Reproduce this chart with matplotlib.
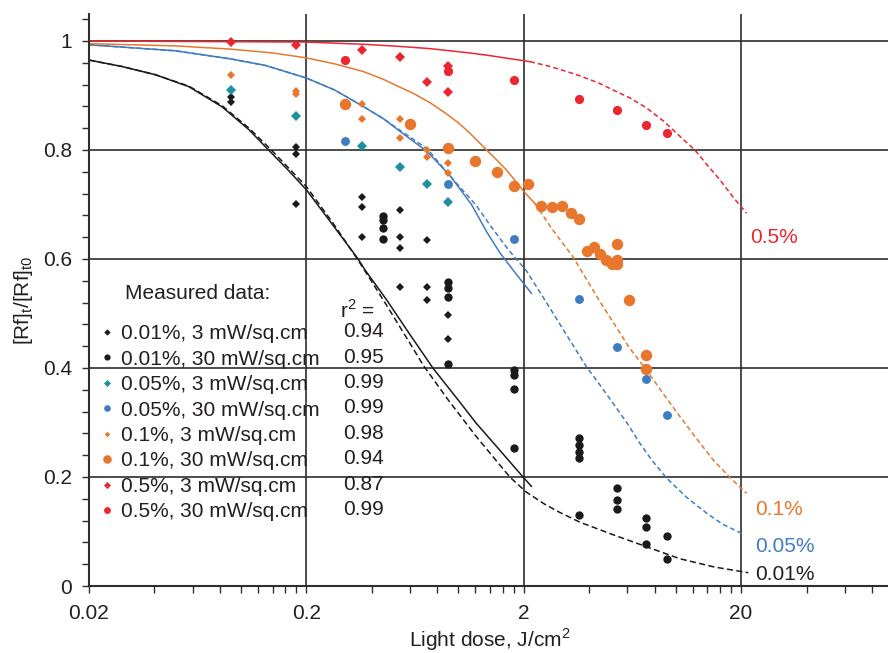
import numpy as np
import matplotlib.pyplot as plt
from matplotlib.ticker import FixedLocator, MultipleLocator, NullFormatter

plt.rcParams['font.family'] = ['Liberation Sans', 'DejaVu Sans']
plt.rcParams['mathtext.fontset'] = 'custom'
plt.rcParams['mathtext.rm'] = 'Liberation Sans'

TXT = '#231f20'
BLACK = '#1a1a1a'
TEAL = '#1f8fa3'
BLUE = '#3f7cc2'
ORANGE = '#e8772d'
RED = '#ec2630'

# ---- measured data (light dose J/cm^2, [Rf]t/[Rf]t0) ----
dose_001_3 = [0.09, 0.09, 0.18, 0.18, 0.18, 0.36, 0.36, 0.36, 0.54, 0.54, 0.54, 0.54,
              0.72, 0.72, 0.72, 0.9, 0.9]
frac_001_3 = [0.898, 0.888, 0.806, 0.792, 0.701, 0.714, 0.696, 0.640, 0.689, 0.641, 0.620, 0.549,
              0.634, 0.549, 0.525, 0.497, 0.453]

dose_001_30 = [0.45, 0.45, 0.45, 0.45, 0.9, 0.9, 0.9, 0.9, 1.8, 1.8, 1.8, 1.8,
               3.6, 3.6, 3.6, 3.6, 3.6, 5.4, 5.4, 5.4, 7.3, 7.3, 7.3, 9.1, 9.1]
frac_001_30 = [0.679, 0.672, 0.657, 0.637, 0.557, 0.546, 0.531, 0.407, 0.396, 0.387, 0.361, 0.253,
               0.271, 0.259, 0.246, 0.235, 0.130, 0.179, 0.157, 0.142, 0.125, 0.108, 0.077, 0.092, 0.050]

dose_005_3 = [0.09, 0.18, 0.36, 0.54, 0.72, 0.9]
frac_005_3 = [0.910, 0.863, 0.807, 0.769, 0.737, 0.704]

dose_005_30 = [0.3, 0.9, 1.8, 3.6, 5.4, 7.3, 9.1]
frac_005_30 = [0.817, 0.738, 0.636, 0.527, 0.439, 0.380, 0.313]

dose_01_3 = [0.09, 0.18, 0.18, 0.36, 0.36, 0.54, 0.54, 0.72, 0.72, 0.9, 0.9]
frac_01_3 = [0.938, 0.909, 0.903, 0.884, 0.857, 0.857, 0.822, 0.800, 0.788, 0.776, 0.757]

dose_01_30 = [0.3, 0.6, 0.9, 1.2, 1.5, 1.8, 2.1, 2.4, 2.7, 3.0, 3.3, 3.6, 3.9, 4.2, 4.5,
              4.8, 5.1, 5.4, 5.4, 5.4, 6.1, 7.3, 7.3]
frac_01_30 = [0.884, 0.848, 0.804, 0.779, 0.760, 0.733, 0.737, 0.697, 0.695, 0.698, 0.685, 0.673,
              0.615, 0.622, 0.609, 0.598, 0.590, 0.628, 0.598, 0.590, 0.525, 0.424, 0.399]

dose_05_3 = [0.09, 0.18, 0.36, 0.54, 0.72, 0.9, 0.9]
frac_05_3 = [0.999, 0.993, 0.983, 0.971, 0.924, 0.954, 0.907]

dose_05_30 = [0.3, 0.9, 1.8, 3.6, 5.4, 7.3, 9.1]
frac_05_30 = [0.966, 0.944, 0.928, 0.894, 0.873, 0.846, 0.831]

r2_values = ['0.94', '0.95', '0.99', '0.99', '0.98', '0.94', '0.87', '0.99']

# ---- fitted curves (solid = fitted range, dashed = extrapolation / 30 mW fit) ----
fit_001_solid_x = [0.02, 0.0285, 0.0405, 0.0577, 0.082, 0.109, 0.134, 0.165, 0.2, 0.265, 0.346, 0.372,
                   0.468, 0.6, 0.767, 1.0, 1.21, 1.5, 1.99, 2.17]
fit_001_solid_y = [0.965, 0.953, 0.938, 0.916, 0.879, 0.837, 0.800, 0.763, 0.727, 0.662, 0.600, 0.580,
                   0.525, 0.461, 0.399, 0.341, 0.2985, 0.256, 0.1995, 0.183]
fit_001_dash_x = [0.02, 0.0285, 0.0405, 0.0577, 0.082, 0.109, 0.138, 0.2, 0.265, 0.346, 0.468, 0.6,
                  0.69, 0.9, 1.2, 1.73, 2.06, 2.5, 2.93, 3.63, 5.16, 7.35, 10.46, 15.0, 21.6]
fit_001_dash_y = [0.965, 0.953, 0.938, 0.917, 0.881, 0.840, 0.800, 0.733, 0.666, 0.598, 0.515, 0.445,
                  0.405, 0.341, 0.276, 0.1995, 0.172, 0.150, 0.135, 0.117, 0.094, 0.072, 0.050, 0.035, 0.0244]

fit_005_solid_x = [0.02, 0.05, 0.09, 0.13, 0.2, 0.27, 0.365, 0.45, 0.54, 0.72, 0.92, 1.15, 1.35, 1.55,
                   1.8, 2.17]
fit_005_solid_y = [0.993, 0.982, 0.967, 0.955, 0.932, 0.910, 0.880, 0.858, 0.834, 0.797, 0.752, 0.700,
                   0.650, 0.612, 0.578, 0.537]
fit_005_dash_x = [0.02, 0.05, 0.09, 0.13, 0.2, 0.27, 0.365, 0.45, 0.54, 0.72, 0.95, 1.2, 1.4, 1.7, 2.06,
                  2.5, 3.1, 3.89, 4.48, 5.16, 6.0, 6.84, 7.8, 9.09, 11.2, 13.9, 16.5, 20.1]
fit_005_dash_y = [0.993, 0.982, 0.967, 0.955, 0.932, 0.910, 0.880, 0.858, 0.836, 0.802, 0.745, 0.700,
                  0.662, 0.617, 0.578, 0.525, 0.465, 0.402, 0.369, 0.335, 0.298, 0.262, 0.230, 0.198,
                  0.163, 0.1335, 0.113, 0.0967]

fit_01_solid_x = [0.02, 0.05, 0.09, 0.14, 0.2, 0.27, 0.365, 0.45, 0.54, 0.62, 0.74, 0.87, 1.0, 1.13,
                  1.35, 1.5, 1.67, 2.0, 2.25]
fit_01_solid_y = [0.995, 0.991, 0.985, 0.978, 0.969, 0.958, 0.944, 0.930, 0.915, 0.904, 0.887, 0.868,
                  0.850, 0.831, 0.800, 0.782, 0.763, 0.724, 0.702]
fit_01_dash_x = [2.25, 2.7, 3.37, 3.9, 4.48, 5.16, 6.1, 7.35, 8.8, 10.46, 12.5, 14.9, 17.8, 21.2]
fit_01_dash_y = [0.702, 0.655, 0.604, 0.562, 0.522, 0.484, 0.438, 0.396, 0.352, 0.311, 0.270, 0.231,
                 0.199, 0.170]

fit_05_solid_x = [0.02, 0.2, 0.365, 0.54, 0.74, 0.915, 1.13, 1.35, 1.7, 2.14]
fit_05_solid_y = [1.000, 0.998, 0.994, 0.990, 0.986, 0.982, 0.978, 0.974, 0.968, 0.962]
fit_05_dash_x = [2.14, 2.6, 3.15, 3.63, 4.48, 5.16, 6.2, 7.35, 8.8, 10.46, 12.26, 14.0, 16.0, 18.5, 21.2]
fit_05_dash_y = [0.962, 0.954, 0.944, 0.936, 0.922, 0.910, 0.895, 0.877, 0.853, 0.825, 0.800, 0.772,
                 0.745, 0.712, 0.684]

curve_labels = ['0.5%', '0.1%', '0.05%', '0.01%']
curve_label_pos = [(22.1, 0.639), (23.2, 0.141), (23.2, 0.0716), (23.2, 0.022)]
curve_label_colors = [RED, ORANGE, BLUE, TXT]

fig = plt.figure(figsize=(8.88, 6.53), dpi=100)
ax = fig.add_axes([89 / 888, 1 - 586 / 653, 804 / 888, 572 / 653])
ax.set_xscale('log')
ax.set_xlim(0.02, 100)
ax.set_ylim(0, 1.0495)

lw = 1.1
dash = (0, (3.2, 2.0))
ax.plot(fit_001_dash_x, fit_001_dash_y, color=BLACK, lw=lw, ls=(0, (4, 2.2)), zorder=2)
ax.plot(fit_001_solid_x, fit_001_solid_y, color=BLACK, lw=lw, zorder=2)
ax.plot(fit_005_dash_x, fit_005_dash_y, color=BLUE, lw=lw, ls=dash, zorder=2)
ax.plot(fit_005_solid_x, fit_005_solid_y, color=BLUE, lw=lw, zorder=2)
ax.plot(fit_01_solid_x, fit_01_solid_y, color=ORANGE, lw=lw, zorder=2)
ax.plot(fit_01_dash_x, fit_01_dash_y, color=ORANGE, lw=lw, ls=dash, zorder=2)
ax.plot(fit_05_solid_x, fit_05_solid_y, color=RED, lw=lw, zorder=2)
ax.plot(fit_05_dash_x, fit_05_dash_y, color=RED, lw=lw, ls=dash, zorder=2)

series = [
    (dose_001_3, frac_001_3, 'D', 4.3, BLACK, '0.01%, 3 mW/sq.cm'),
    (dose_001_30, frac_001_30, 'o', 6.0, BLACK, '0.01%, 30 mW/sq.cm'),
    (dose_005_3, frac_005_3, 'D', 4.8, TEAL, '0.05%, 3 mW/sq.cm'),
    (dose_005_30, frac_005_30, 'o', 6.4, BLUE, '0.05%, 30 mW/sq.cm'),
    (dose_01_3, frac_01_3, 'D', 3.7, ORANGE, '0.1%, 3 mW/sq.cm'),
    (dose_01_30, frac_01_30, 'o', 8.2, ORANGE, '0.1%, 30 mW/sq.cm'),
    (dose_05_3, frac_05_3, 'D', 4.8, RED, '0.5%, 3 mW/sq.cm'),
    (dose_05_30, frac_05_30, 'o', 6.6, RED, '0.5%, 30 mW/sq.cm'),
]
handles = []
for xs, ys, mk, ms, col, lab in series:
    h, = ax.plot(xs, ys, ls='none', marker=mk, ms=ms, color=col, mew=0, label=lab, zorder=3)
    handles.append(h)

# end-of-curve labels
for lab, (lx, ly), col in zip(curve_labels, curve_label_pos, curve_label_colors):
    ax.text(lx, ly, lab, color=col, fontsize=15, ha='left', va='center')

leg = ax.legend(handles=handles, loc='upper left', bbox_to_anchor=(0.0149, 0.4577),
                frameon=False, fontsize=15, markerscale=0.75, handlelength=0.6,
                handletextpad=0.36, labelspacing=0.31, borderpad=0, borderaxespad=0)
for t in leg.get_texts():
    t.set_color(TXT)
ax.text(0.0448, 0.5122, 'Measured data:', transform=ax.transAxes, fontsize=15,
        color=TXT, ha='left', va='center')

# r^2 column
ax.text(0.312, 0.4825, r'r$^\mathregular{2}$ =', transform=ax.transAxes, fontsize=15,
        color=TXT, ha='left', va='center')
for i, r2 in enumerate(r2_values):
    ax.text(0.316, 0.4446 - i * 0.0444, r2, transform=ax.transAxes, fontsize=15,
            color=TXT, ha='left', va='center')

# axes, ticks and grid
major_x = [0.02, 0.2, 2, 20]
minor_x = [k * 0.02 * 10 ** n for n in range(3) for k in range(2, 10)] + [40, 60, 80]
ax.xaxis.set_major_locator(FixedLocator(major_x))
ax.xaxis.set_minor_locator(FixedLocator(minor_x))
ax.xaxis.set_minor_formatter(NullFormatter())
ax.set_xticklabels(['0.02', '0.2', '2', '20'])
ax.yaxis.set_major_locator(FixedLocator([0, 0.2, 0.4, 0.6, 0.8, 1.0]))
ax.set_yticklabels(['0', '0.2', '0.4', '0.6', '0.8', '1'])
ax.yaxis.set_minor_locator(MultipleLocator(0.04))

ax.grid(which='major', color='#2e2e2e', lw=1.2, zorder=1)
ax.set_axisbelow(True)
for side in ['top', 'right']:
    ax.spines[side].set_visible(False)
for side in ['left', 'bottom']:
    ax.spines[side].set_color('#2e2e2e')
    ax.spines[side].set_linewidth(1.5)
ax.tick_params(which='both', direction='out', length=5, width=1, color='#2e2e2e',
               labelsize=15, labelcolor=TXT)
ax.tick_params(axis='y', which='both', pad=7)
ax.tick_params(axis='x', which='both', pad=8)

# x label placed under the visible part of the axis
fig.text(490 / 888, 1 - 640 / 653, r'Light dose, J/cm$^\mathregular{2}$', fontsize=15, color=TXT,
         ha='center', va='center')
ax.set_ylabel(r'[Rf]$_\mathregular{t}$/[Rf]$_\mathregular{t0}$', fontsize=15, color=TXT, labelpad=6)

fig.savefig('out.png', dpi=100)
